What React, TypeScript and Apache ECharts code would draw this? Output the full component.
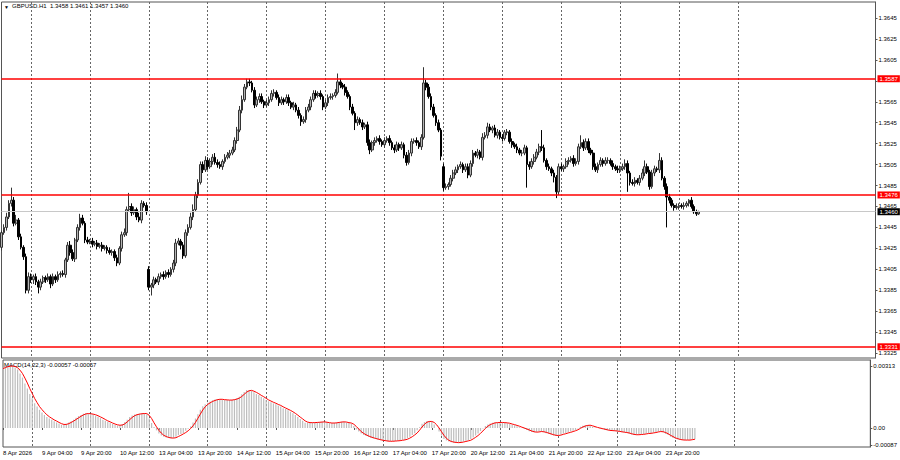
import { useEffect, useRef } from 'react';
import * as echarts from 'echarts';

// ---------- data (prices in pips above 1.3000, MACD in 1e-5 units) ----------
const symbolName = 'GBPUSD.H1';
const firstOpen = 426;
const gapOpens: Record<number, number> = { 60: 405, 180: 503 };

const closes = [
  440, 445, 455, 468, 471, 449, 452, 436, 426, 417, 385, 398,
  395, 398, 393, 388, 393, 397, 395, 398, 391, 398, 395, 400, 401, 400, 414, 428, 421, 415, 433, 445, 454, 449, 433, 431,
  432, 429, 430, 427, 428, 425, 426, 423, 421, 422, 416, 411, 425, 438, 440, 462, 465, 459, 462, 455, 452, 468, 466, 460,
  388, 390, 395, 393, 398, 400, 398, 402, 400, 405, 411, 430, 432, 428, 418, 440, 445, 455, 462, 476, 488, 505, 500, 509,
  503, 508, 512, 507, 505, 503, 508, 512, 514, 516, 519, 528, 538, 557, 567, 579, 584, 583, 576, 562, 567, 570, 565, 562,
  564, 567, 573, 574, 569, 564, 567, 565, 569, 564, 560, 562, 557, 552, 546, 548, 557, 560, 567, 573, 571, 573, 570, 560,
  564, 569, 570, 571, 574, 584, 581, 579, 574, 570, 560, 554, 545, 548, 545, 541, 543, 526, 519, 526, 528, 530, 527, 524,
  528, 530, 526, 521, 519, 524, 521, 524, 514, 507, 516, 527, 528, 526, 522, 531, 583, 579, 570, 560, 552, 545, 538, 513,
  483, 484, 486, 492, 497, 500, 503, 505, 500, 503, 495, 506, 516, 514, 517, 512, 531, 533, 541, 538, 540, 533, 536, 531,
  530, 536, 536, 527, 524, 522, 519, 516, 516, 521, 505, 503, 508, 512, 517, 522, 521, 509, 503, 501, 497, 493, 479, 503,
  501, 503, 508, 509, 511, 506, 508, 522, 526, 521, 527, 519, 516, 503, 500, 505, 509, 506, 509, 509, 506, 503, 501, 500,
  501, 503, 506, 497, 488, 487, 490, 488, 492, 497, 503, 498, 484, 497, 501, 500, 509, 492, 484, 474, 471, 466, 464, 465,
  466, 465, 466, 468, 471, 465, 460, 458, 460,
];

const upperWicks = [
  2, 3, 4, 3, 12, 3, 5, 2, 3, 2, 3, 4,
  3, 2, 3, 2, 3, 2, 2, 3, 2, 3, 2, 3, 2, 3, 2, 3, 4, 3, 2, 3, 4, 3, 2, 3,
  2, 3, 2, 3, 2, 3, 2, 2, 3, 2, 2, 3, 2, 3, 4, 3, 13, 3, 3, 2, 4, 3, 2, 3,
  3, 2, 3, 2, 3, 2, 3, 2, 3, 2, 3, 4, 3, 2, 3, 3, 3, 4, 5, 3, 3, 3, 3, 4,
  3, 3, 3, 4, 3, 3, 2, 3, 3, 3, 3, 3, 3, 4, 4, 3, 3, 3, 2, 3, 3, 3, 3, 2,
  3, 3, 3, 3, 2, 3, 3, 2, 3, 3, 2, 3, 2, 3, 2, 3, 3, 3, 3, 3, 3, 2, 3, 2,
  3, 3, 3, 2, 3, 8, 3, 2, 3, 2, 2, 3, 2, 3, 2, 3, 2, 3, 3, 2, 3, 2, 3, 2,
  3, 2, 3, 2, 3, 3, 2, 3, 2, 3, 3, 3, 2, 3, 2, 3, 15, 3, 3, 3, 3, 2, 3, 2,
  3, 3, 2, 3, 3, 3, 2, 3, 2, 3, 3, 3, 3, 2, 3, 2, 4, 3, 4, 3, 2, 3, 3, 2,
  3, 2, 3, 2, 3, 2, 3, 2, 3, 3, 2, 3, 3, 3, 3, 3, 16, 3, 2, 3, 2, 3, 2, 3,
  3, 2, 3, 3, 2, 3, 3, 3, 7, 3, 3, 3, 2, 3, 3, 2, 3, 2, 3, 3, 2, 3, 2, 3,
  3, 3, 4, 3, 2, 3, 3, 2, 3, 4, 6, 3, 2, 3, 3, 2, 7, 3, 2, 3, 3, 2, 2, 3,
  2, 2, 3, 2, 1, 3, 2, 2, 1,
];

const lowerWicks = [
  3, 2, 3, 2, 3, 3, 2, 3, 2, 3, 3, 3,
  3, 4, 3, 6, 3, 2, 3, 2, 4, 2, 3, 2, 3, 2, 3, 2, 3, 2, 3, 2, 3, 2, 3, 2,
  2, 3, 2, 3, 2, 3, 2, 3, 2, 3, 3, 3, 2, 3, 2, 3, 2, 3, 2, 3, 2, 3, 2, 3,
  3, 8, 3, 2, 3, 2, 3, 2, 3, 2, 3, 3, 2, 4, 3, 2, 3, 2, 3, 2, 3, 2, 3, 2,
  3, 2, 3, 2, 3, 2, 3, 2, 2, 3, 2, 2, 3, 2, 3, 2, 2, 3, 2, 3, 2, 3, 2, 3,
  2, 3, 2, 3, 2, 3, 2, 3, 2, 3, 2, 3, 2, 3, 4, 2, 3, 2, 3, 2, 3, 2, 3, 3,
  2, 3, 2, 3, 2, 2, 3, 2, 3, 2, 3, 2, 7, 3, 2, 3, 2, 3, 4, 2, 3, 2, 3, 2,
  3, 2, 3, 2, 3, 2, 3, 2, 3, 3, 2, 3, 2, 3, 2, 3, 2, 3, 2, 3, 2, 3, 2, 4,
  3, 2, 3, 2, 3, 2, 3, 2, 3, 2, 3, 2, 3, 2, 3, 2, 3, 2, 3, 2, 3, 2, 3, 2,
  3, 2, 3, 2, 3, 2, 3, 2, 3, 2, 22, 3, 2, 3, 2, 3, 3, 2, 3, 2, 3, 5, 6, 3,
  2, 3, 2, 3, 2, 3, 2, 3, 2, 3, 2, 3, 2, 3, 2, 3, 2, 3, 2, 3, 2, 3, 2, 3,
  3, 2, 3, 18, 3, 2, 3, 2, 3, 2, 3, 2, 3, 2, 3, 2, 3, 2, 3, 29, 3, 2, 3, 2,
  3, 2, 3, 2, 3, 2, 2, 2, 1,
];

const macdMain = [
  305, 310, 313, 313, 312, 305, 295, 275, 255, 225, 200, 172,
  150, 125, 108, 92, 78, 66, 56, 48, 42, 34, 28, 22, 16, 17, 22, 28, 34, 42, 52, 60, 66, 72, 74, 72,
  70, 68, 62, 57, 50, 42, 36, 30, 26, 20, 15, 12, 14, 20, 30, 42, 55, 63, 68, 70, 72, 74, 74, 70,
  48, 25, 5, -12, -28, -38, -44, -48, -51, -52, -50, -44, -36, -30, -25, -14, -4, 8, 28, 48, 70, 92, 110, 120,
  128, 134, 140, 144, 146, 145, 143, 141, 141, 141, 142, 145, 150, 158, 170, 182, 192, 190, 187, 180, 172, 166, 158, 150,
  142, 135, 130, 124, 120, 114, 108, 100, 96, 90, 82, 74, 66, 56, 46, 36, 27, 27, 27, 27, 28, 28, 30, 32,
  30, 26, 25, 25, 26, 28, 30, 32, 30, 27, 25, 22, 10, -8, -18, -28, -35, -40, -45, -50, -53, -56, -59, -62,
  -64, -66, -67, -67, -66, -66, -64, -62, -60, -58, -52, -44, -36, -26, -12, 4, 22, 30, 35, 35, 30, 18, 0, -18,
  -38, -55, -63, -68, -72, -74, -74, -73, -71, -68, -65, -62, -56, -48, -38, -28, -15, -2, 10, 18, 23, 26, 28, 28,
  28, 27, 26, 24, 20, 17, 14, 9, 4, 0, -5, -10, -16, -20, -22, -20, -17, -18, -22, -26, -30, -34, -38, -39,
  -36, -33, -28, -25, -22, -18, -14, -10, -2, 6, 11, 14, 15, 12, 6, 2, 0, -3, -6, -10, -12, -13, -14, -15,
  -17, -19, -21, -22, -25, -29, -33, -35, -35, -33, -32, -30, -28, -27, -26, -23, -20, -18, -16, -22, -30, -36, -44, -50,
  -55, -58, -60, -61, -61, -61, -60, -58, -57,
];

const macdSignal = [
  300, 305, 310, 312, 313, 311, 304, 292, 275, 252, 227, 199,
  174, 149, 128, 108, 93, 79, 67, 57, 49, 41, 35, 28, 22, 18, 18, 22, 28, 35, 43, 51, 59, 66, 71, 73,
  72, 70, 67, 62, 56, 50, 43, 36, 31, 25, 20, 16, 14, 15, 21, 31, 42, 53, 62, 67, 70, 72, 73, 73,
  64, 48, 26, 6, -12, -26, -37, -43, -48, -50, -51, -49, -43, -37, -30, -23, -14, -3, 11, 28, 49, 70, 91, 107,
  119, 127, 134, 139, 143, 145, 145, 143, 142, 141, 141, 143, 146, 151, 159, 170, 181, 188, 190, 186, 180, 173, 165, 158,
  150, 142, 136, 130, 125, 119, 114, 107, 101, 95, 89, 82, 74, 65, 55, 46, 36, 30, 27, 27, 27, 28, 29, 30,
  31, 29, 27, 25, 25, 26, 28, 30, 31, 30, 27, 25, 19, 8, -5, -18, -27, -34, -40, -45, -49, -53, -56, -59,
  -62, -64, -66, -67, -67, -66, -65, -64, -62, -60, -57, -51, -44, -35, -25, -11, 5, 19, 29, 33, 33, 28, 16, 0,
  -19, -37, -52, -62, -68, -71, -73, -74, -73, -71, -68, -65, -62, -55, -47, -38, -27, -15, -2, 9, 17, 22, 26, 27,
  28, 28, 27, 26, 24, 20, 17, 13, 9, 4, 0, -5, -10, -15, -19, -21, -20, -18, -19, -22, -26, -30, -34, -37,
  -38, -36, -32, -29, -25, -22, -18, -14, -9, -2, 5, 10, 13, 14, 11, 7, 3, 0, -3, -6, -9, -12, -13, -14,
  -15, -17, -19, -21, -23, -25, -29, -32, -34, -34, -33, -32, -30, -28, -27, -25, -23, -20, -18, -19, -23, -29, -37, -43,
  -50, -54, -58, -60, -61, -61, -61, -59, -57,
];

const levelLines = [1.3587, 1.3476, 1.3331];
const currentPrice = 1.346;
const priceTicks = [
  1.3325, 1.3345, 1.3365, 1.3385, 1.3405, 1.3425, 1.3445, 1.3465, 1.3485,
  1.3505, 1.3525, 1.3545, 1.3565, 1.3585, 1.3605, 1.3625, 1.3645,
];
// 1.3585 sits under the 1.3587 level box, so its text is not shown
const priceTickLabels = [
  1.3325, 1.3345, 1.3365, 1.3385, 1.3405, 1.3425, 1.3445, 1.3465, 1.3485,
  1.3505, 1.3525, 1.3545, 1.3565, 1.3605, 1.3625, 1.3645,
];
const macdTicks = [0.00313, 0, -0.00087];
const xTickLabels = [
  '8 Apr 2026', '9 Apr 04:00', '9 Apr 20:00', '10 Apr 12:00', '13 Apr 04:00', '13 Apr 20:00',
  '14 Apr 12:00', '15 Apr 04:00', '15 Apr 20:00', '16 Apr 12:00', '17 Apr 04:00', '17 Apr 20:00',
  '20 Apr 12:00', '21 Apr 04:00', '21 Apr 20:00', '22 Apr 12:00', '23 Apr 04:00', '23 Apr 20:00',
];
const barsPerLabel = 16;
const barsPerGrid = 24;
const firstGridBar = 12;
const lastGridBar = 300;
const totalSlots = 357;

// ---------- derived ----------
const toPrice = (p: number) => +(1.3 + p / 10000).toFixed(4);
const opens = closes.map((c, i) => (i === 0 ? firstOpen : gapOpens[i] ?? closes[i - 1]));
const candles = closes.map((c, i) => {
  const o = opens[i];
  const hi = Math.max(o, c) + upperWicks[i];
  const lo = Math.min(o, c) - lowerWicks[i];
  return [toPrice(o), toPrice(c), toPrice(lo), toPrice(hi)];
});
const last = candles[candles.length - 1];
const headerText = `${symbolName}  ${last[0].toFixed(4)} ${last[3].toFixed(4)} ${last[2].toFixed(4)} ${last[1].toFixed(4)}`;
const macdText = `MACD(14,22,3) ${(macdMain[macdMain.length - 1] / 1e5).toFixed(5)} ${(macdSignal[macdSignal.length - 1] / 1e5).toFixed(5)}`;

const slots = Array.from({ length: totalSlots }, (_, i) => String(i));
const isGrid = (i: number) => i >= firstGridBar && (i - firstGridBar) % barsPerGrid === 0 && i <= lastGridBar;
const isLabel = (i: number) => i % barsPerLabel === 0 && i / barsPerLabel < xTickLabels.length;

const font = 'Liberation Sans, Arial, sans-serif';
const gridLineStyle = { color: '#666', width: 1, type: [2, 2] as number[] };

const boxLabel = (v: number, bg: string) => ({
  show: true,
  position: 'end',
  formatter: v.toFixed(4),
  backgroundColor: bg,
  color: '#fff',
  fontSize: 6,
  fontFamily: font,
  padding: [1, 2, 0, 2],
  distance: 2,
});

const option: any = {
  animation: false,
  backgroundColor: '#fff',
  textStyle: { fontFamily: font },
  grid: [
    { left: 1.5, right: 24.5, top: 2, height: 356, show: true, borderColor: '#555', borderWidth: 1 },
    { left: 1.5, right: 24.5, top: 360, height: 87, show: true, borderColor: '#555', borderWidth: 1 },
  ],
  xAxis: [
    {
      type: 'category', gridIndex: 0, data: slots, boundaryGap: false,
      axisLine: { show: false }, axisTick: { show: false }, axisLabel: { show: false },
      splitLine: { show: true, interval: (i: number) => isGrid(i), lineStyle: gridLineStyle },
    },
    {
      type: 'category', gridIndex: 1, data: slots, boundaryGap: false,
      axisLine: { show: false },
      axisTick: { show: true, interval: (i: number) => isLabel(i), length: 2, lineStyle: { color: '#555' } },
      axisLabel: {
        show: true, interval: (i: number) => isLabel(i),
        formatter: (_v: string, i: number) => xTickLabels[i / barsPerLabel] ?? '',
        align: 'left', fontSize: 6, color: '#000', margin: 3, fontFamily: font,
      },
      splitLine: { show: true, interval: (i: number) => isGrid(i), lineStyle: gridLineStyle },
    },
  ],
  yAxis: [
    {
      type: 'value', gridIndex: 0, position: 'right', min: 1.33203, max: 1.36603,
      splitLine: { show: false },
      axisLine: { show: true, lineStyle: { color: '#555' } },
      axisTick: { show: true, customValues: priceTicks, length: 2, lineStyle: { color: '#555' } },
      axisLabel: { customValues: priceTickLabels, formatter: (v: number) => v.toFixed(4), fontSize: 6, color: '#000', margin: 3, fontFamily: font },
    },
    {
      type: 'value', gridIndex: 1, position: 'right', min: -0.00096, max: 0.003434,
      splitLine: { show: false },
      axisLine: { show: true, lineStyle: { color: '#555' } },
      axisTick: { show: true, customValues: macdTicks, length: 2, lineStyle: { color: '#555' } },
      axisLabel: {
        customValues: macdTicks,
        formatter: (v: number) => (v === 0 ? '0.00' : v.toFixed(5)),
        fontSize: 6, color: '#000', margin: 3, fontFamily: font,
      },
    },
  ],
  series: [
    {
      type: 'candlestick', xAxisIndex: 0, yAxisIndex: 0, data: candles, barWidth: 2.2,
      itemStyle: { color: '#b4b4b4', color0: '#000', borderColor: '#333', borderColor0: '#000', borderWidth: 1 },
    },
    {
      type: 'line', xAxisIndex: 0, yAxisIndex: 0, data: [], silent: true, z: 5,
      markLine: {
        silent: true, symbol: ['none', 'none'], animation: false, precision: 4,
        data: [
          { yAxis: currentPrice, lineStyle: { color: '#c8c8c8', width: 1, type: 'solid' }, label: boxLabel(currentPrice, '#000') },
          ...levelLines.map((v) => ({ yAxis: v, lineStyle: { color: '#ff0000', width: 1.6, type: 'solid' }, label: boxLabel(v, '#ff0000') })),
        ],
      },
    },
    {
      type: 'bar', xAxisIndex: 1, yAxisIndex: 1, data: macdMain.map((v) => v / 1e5), barWidth: 1.2,
      itemStyle: { color: '#bdbdbd' },
    },
    {
      type: 'line', xAxisIndex: 1, yAxisIndex: 1, data: macdSignal.map((v) => v / 1e5),
      showSymbol: false, symbol: 'none', lineStyle: { color: '#ff0000', width: 1 },
    },
  ],
  graphic: [
    { type: 'text', left: 4, top: 4, style: { text: '▼', fontSize: 5, fill: '#000' } },
    { type: 'text', left: 12, top: 3, style: { text: headerText, fontSize: 6, fill: '#000', fontFamily: font } },
    { type: 'text', left: 4, top: 362, style: { text: macdText, fontSize: 6, fill: '#000', fontFamily: font } },
  ],
};

export default function App() {
  const ref = useRef<HTMLDivElement>(null);
  useEffect(() => {
    if (!ref.current) return;
    const chart = echarts.init(ref.current, null, { renderer: 'svg' });
    chart.setOption(option);
    return () => chart.dispose();
  }, []);
  return (
    <div
      ref={ref}
      style={{ position: 'fixed', left: 0, top: 0, width: 900, height: 460, background: '#fff' }}
    />
  );
}
